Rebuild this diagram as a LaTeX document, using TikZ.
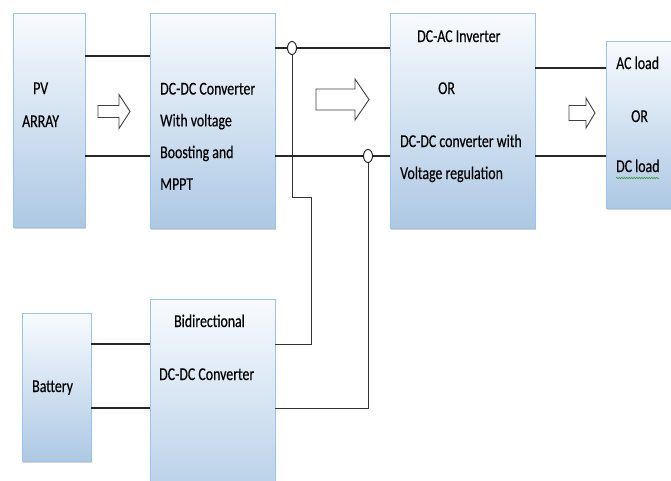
\documentclass[tikz,border=0pt]{standalone}
\usepackage{fontspec}
\setmainfont{Carlito}[FakeStretch=0.77,FakeBold=0.35]
\usetikzlibrary{shapes.geometric,shadows,decorations.pathmorphing}
\definecolor{boxedge}{HTML}{9DC3E6}
\definecolor{boxtop}{HTML}{F8FBFE}
\definecolor{boxbot}{HTML}{ADC8E4}
\definecolor{spellgreen}{HTML}{3C9A3C}

\begin{document}
\begin{tikzpicture}[x=1pt,y=-1pt,
    box/.style = {rectangle,draw=boxedge,line width=1pt,top color=boxtop,bottom color=boxbot,anchor=north west,inner sep=0pt,outer sep=0pt,drop shadow={shadow xshift=0.8pt,shadow yshift=-1.8pt,fill=black!35}},
    txt/.style = {anchor=base west,inner sep=0pt,font=\fontsize{18}{20}\selectfont,text=black},
    wire/.style = {draw=black!85,line width=1.3pt},
    thinwire/.style = {draw=black!80,line width=1pt},
    joint/.style = {ellipse,draw=black!85,fill=white,line width=1pt,minimum width=9pt,minimum height=13pt,inner sep=0pt},
    hollow/.style = {draw=black!75,fill=white,line width=0.9pt,line join=miter}]
\useasboundingbox (0,0) rectangle (671,480);
\clip (0,0) rectangle (671,480);

% blocks
\node[box,minimum width=72pt,minimum height=214pt] (pv) at (13,13) {};
\node[box,minimum width=125pt,minimum height=215pt] (dcdc) at (150,13) {};
\node[box,minimum width=145pt,minimum height=215pt] (inv) at (390,13) {};
\node[box,minimum width=72pt,minimum height=167pt] (load) at (606,41) {};
\node[box,minimum width=69pt,minimum height=148pt] (batt) at (22,313) {};
\node[box,minimum width=125pt,minimum height=230pt] (bidir) at (150,299) {};

% texts
\node[txt] (pv1) at (33,94) {PV};
\node[txt] (pv2) at (22,127) {ARRAY};
\foreach \t [count=\i from 0] in {DC-DC Converter, With voltage, Boosting and, MPPT}
    \node[txt] (dc\i) at (160,94.5+31.8*\i) {\t};
\node[txt] (inv1) at (417,42) {DC-AC Inverter};
\node[txt] (inv2) at (438,94) {OR};
\node[txt] (inv3) at (400,147) {DC-DC converter with};
\node[txt] (inv4) at (400,179) {Voltage regulation};
\node[txt] (ld1) at (616,69) {AC load};
\node[txt] (ld2) at (631,122) {OR};
\node[txt] (ld3) at (616,172) {DC\hspace{3pt}load};
\draw[spellgreen,line width=0.6pt,decorate,decoration={snake,segment length=2.5pt,amplitude=0.7pt}] (ld3.base west) ++(0,6) -- ++(43,0);
\node[txt] (bt1) at (32,392) {Battery};
\node[txt] (bd1) at (174,327) {Bidirectional};
\node[txt] (bd2) at (159,380) {DC-DC Converter};

% power flow arrows
\foreach \xa/\xb/\xc/\ym/\hb/\hh in {98/119/130/111.5/6/17, 316/355/369/99.5/10.5/20.5, 569/586/595/113/7.5/15}
    \draw[hollow] (\xa,\ym-\hb) -- (\xb,\ym-\hb) -- (\xb,\ym-\hh) -- (\xc,\ym) -- (\xb,\ym+\hh) -- (\xb,\ym+\hb) -- (\xa,\ym+\hb) -- cycle;

% wiring
\node[joint] (j1) at (292,48) {};
\node[joint] (j2) at (368,156) {};
\draw[thinwire] (j1.south) |- (311,197) |- (bidir.east |- 0,344);
\draw[thinwire] (j2.south) |- (bidir.east |- 0,408);
\draw[wire] (pv.east |- 0,56) -- (dcdc.west |- 0,56);
\draw[wire] (pv.east |- 0,156) -- (dcdc.west |- 0,156);
\draw[wire] (dcdc.east |- j1) -- (j1.west) (j1.east) -- (inv.west |- j1);
\draw[wire] (dcdc.east |- j2) -- (j2.west) (j2.east) -- (inv.west |- j2);
\draw[wire] (inv.east |- 0,68) -- (load.west |- 0,68);
\draw[wire] (inv.east |- 0,156) -- (load.west |- 0,156);
\draw[wire] (batt.east |- 0,344) -- (bidir.west |- 0,344);
\draw[wire] (batt.east |- 0,408) -- (bidir.west |- 0,408);
\end{tikzpicture}
\end{document}
